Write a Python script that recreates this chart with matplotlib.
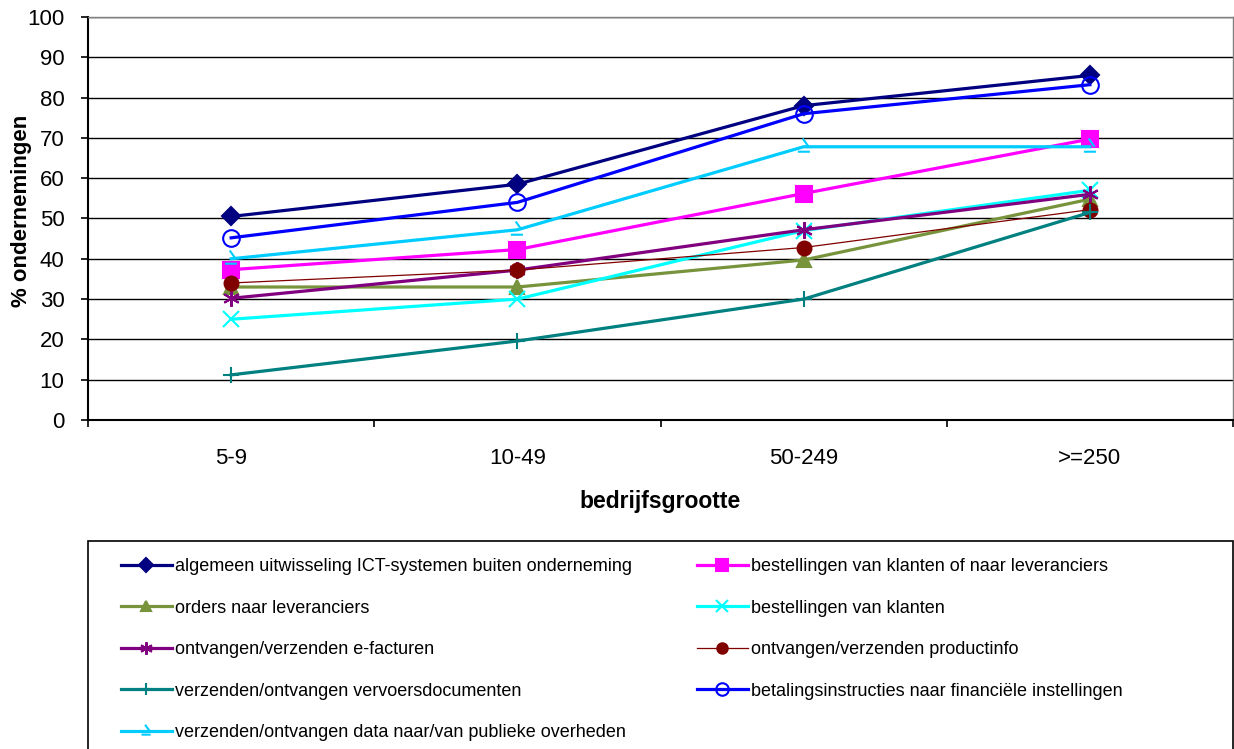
import matplotlib
matplotlib.use("Agg")
import matplotlib.pyplot as plt
from matplotlib.path import Path
from matplotlib.patches import Rectangle

plt.rcParams['font.family'] = ['Liberation Sans', 'DejaVu Sans']

# ---------------------------------------------------------------- data
categories = ['5-9', '10-49', '50-249', '>=250']

algemeen = [50.5, 58.5, 78.0, 85.5]
best_klant_lev = [37.3, 42.3, 56.2, 69.7]
orders_lev = [33.0, 33.0, 39.7, 54.8]
best_klanten = [25.0, 30.0, 47.0, 57.0]
e_facturen = [30.2, 37.2, 47.2, 56.0]
productinfo = [34.0, 37.2, 42.8, 52.2]
vervoer = [11.2, 19.6, 30.0, 51.5]
betaling = [45.2, 54.0, 76.0, 83.2]
overheden = [40.0, 47.2, 67.8, 67.8]

labels = ['algemeen uitwisseling ICT-systemen buiten onderneming',
          'bestellingen van klanten of naar leveranciers',
          'orders naar leveranciers',
          'bestellingen van klanten',
          'ontvangen/verzenden e-facturen',
          'ontvangen/verzenden productinfo',
          'verzenden/ontvangen vervoersdocumenten',
          'betalingsinstructies naar financiële instellingen',
          'verzenden/ontvangen data naar/van publieke overheden']

# ---------------------------------------------------------------- styles
# odd excel marker for the last series
hook = Path([(-0.15, 0.75), (0.35, 0.05), (-0.55, -0.35), (0.45, -0.35)],
            [Path.MOVETO, Path.LINETO, Path.MOVETO, Path.LINETO])

series = [
    (algemeen, '#000080', 'D', 9.5, 2.3, 'full'),
    (best_klant_lev, '#FF00FF', 's', 12, 2.3, 'full'),
    (orders_lev, '#77933C', '^', 10, 2.3, 'full'),
    (best_klanten, '#00FFFF', 'x', 11, 2.3, 'full'),
    (e_facturen, '#800080', (6, 2, 0), 12, 2.3, 'full'),
    (productinfo, '#800000', 'o', 10, 0.9, 'full'),
    (vervoer, '#008080', '+', 12, 2.3, 'full'),
    (betaling, '#0000FF', 'o', 12, 2.3, 'none'),
    (overheden, '#00CCFF', hook, 13, 2.3, 'full'),
]

fig = plt.figure(figsize=(12.34, 7.49), dpi=100)
ax = fig.add_axes([88 / 1234, 1 - 420 / 749, 1145 / 1234, 403 / 749])

xpos = [0.5, 1.5, 2.5, 3.5]
handles = []
for (vals, col, mk, ms, lw, fill), lab in zip(series, labels):
    h, = ax.plot(xpos, vals, color=col, lw=lw, marker=mk, ms=ms,
                 fillstyle=fill, mew=1.5, mec=col, label=lab, zorder=3)
    handles.append(h)

ax.set_xlim(0, 4)
ax.set_ylim(0, 100)
ax.set_yticks(range(0, 101, 10))
ax.yaxis.grid(True, color='black', lw=1.0)
ax.set_axisbelow(True)
ax.set_xticks([0, 1, 2, 3, 4])
ax.set_xticklabels([])
ax.set_xticks(xpos, minor=True)
ax.set_xticklabels(categories, minor=True)
ax.tick_params(axis='x', which='minor', length=0, pad=20, labelsize=16)
ax.tick_params(axis='x', which='major', length=5, width=1.2, direction='out')
ax.tick_params(axis='y', length=5, width=1.2, pad=12, labelsize=16)

for s in ['left', 'bottom']:
    ax.spines[s].set_linewidth(1.5)
for s in ['top', 'right']:
    ax.spines[s].set_color('#808080')
    ax.spines[s].set_linewidth(1.0)

ax.set_xlabel('bedrijfsgrootte', fontsize=16.5, fontweight='bold', labelpad=15)
ax.set_ylabel('% ondernemingen', fontsize=16, fontweight='bold')
ax.yaxis.set_label_coords(-0.049, 0.52)

# ---------------------------------------------------------------- legend
fig.patches.append(Rectangle((88 / 1234, -0.05), 1145 / 1234, 0.05 + 208 / 749,
                             transform=fig.transFigure, fill=False,
                             ec='black', lw=1.2))

col1 = [0, 2, 4, 6, 8]
col2 = [1, 3, 5, 7]
for idx, x0 in [(col1, 121 / 1234), (col2, 697 / 1234)]:
    fig.legend([handles[i] for i in idx], [labels[i] for i in idx],
               loc='upper left', bbox_to_anchor=(x0, 1 - 558 / 749),
               frameon=False, fontsize=13, handlelength=2.8,
               handletextpad=0.2, labelspacing=1.36, borderaxespad=0,
               borderpad=0, markerscale=0.75)

fig.savefig('out.png', dpi=100)
